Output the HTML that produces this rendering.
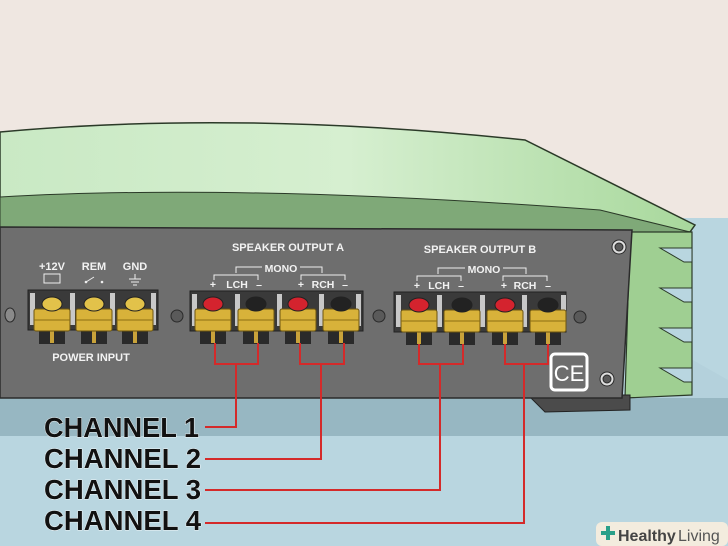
<!DOCTYPE html>
<html><head><meta charset="utf-8"><style>html,body{margin:0;padding:0;background:#efe7e1}svg{display:block}</style></head><body>
<svg width="728" height="546" viewBox="0 0 728 546" xmlns="http://www.w3.org/2000/svg" font-family="Liberation Sans, sans-serif">
<defs>
<linearGradient id="lid" x1="0" y1="0" x2="1" y2="0"><stop offset="0" stop-color="#c9e9c4"/><stop offset="0.5" stop-color="#d6efd0"/><stop offset="1" stop-color="#a8d89c"/></linearGradient>
<g id="term">
<rect x="-13" y="330" width="26" height="14" fill="#2a2a2a"/>
<rect x="-2" y="330" width="4" height="13" fill="#c9a33a"/>
<rect x="-18" y="309" width="36" height="22" rx="2" fill="#d8b23a" stroke="#6b5410" stroke-width="1"/>
<line x1="-18" y1="320" x2="18" y2="320" stroke="#8c6d12" stroke-width="1"/>
</g>
</defs>
<rect width="728" height="546" fill="#efe7e1"/>
<polygon points="560,218 728,218 728,546 0,546 0,400 560,400" fill="#b9d6e0"/>
<polygon points="640,330 728,380 728,546 600,546" fill="#b4d1dc"/>
<rect x="0" y="398" width="728" height="38" fill="#97b7c2"/>
<rect x="0" y="436" width="728" height="110" fill="#b9d6e0"/>
<path d="M0,132 Q240,110 525,140 L695,225 L690,232 L0,232 Z" fill="url(#lid)" stroke="#2b3a28" stroke-width="1.5"/>
<path d="M0,197 Q240,183 600,210 L690,232 L630,236 L0,230 Z" fill="#7fa978" stroke="#2b3a28" stroke-width="1"/>
<path d="M630,232 L692,232 L692,395 L625,398 Z" fill="#9fcf92" stroke="#2b3a28" stroke-width="1.2"/>
<g fill="#b9d6e0" stroke="#2b3a28" stroke-width="1">
<polygon points="692,248 660,248 684,262 692,262"/>
<polygon points="692,288 660,288 684,302 692,302"/>
<polygon points="692,328 660,328 684,342 692,342"/>
<polygon points="692,368 660,368 684,382 692,382"/>
</g>
<polygon points="528,395 630,395 630,410 545,412" fill="#4b4b4b" stroke="#222" stroke-width="1"/>
<polygon points="0,227 632,230 622,398 0,398" fill="#6e6e6e" stroke="#2b2b2b" stroke-width="1.5"/>
<g fill="#5a5a5a" stroke="#2a2a2a">
<circle cx="619" cy="247" r="7" fill="#ddd"/><circle cx="619" cy="247" r="4"/>
<circle cx="607" cy="379" r="7" fill="#ddd"/><circle cx="607" cy="379" r="4"/>
<circle cx="177" cy="316" r="6"/><circle cx="379" cy="316" r="6"/><circle cx="580" cy="317" r="6"/>
<ellipse cx="10" cy="315" rx="5" ry="7" fill="#8a8a8a"/>
</g>
<rect x="551" y="354" width="36" height="36" rx="4" fill="#6e6e6e" stroke="#fff" stroke-width="3"/>
<text x="569" y="381" font-size="22" fill="#fff" text-anchor="middle">CE</text>
<g fill="#f2f2f2" font-weight="bold" font-size="11" text-anchor="middle">
<text x="288" y="251">SPEAKER OUTPUT A</text>
<text x="480" y="253">SPEAKER OUTPUT B</text>
<text x="52" y="270">+12V</text><text x="94" y="270">REM</text><text x="135" y="270">GND</text>
<text x="91" y="361">POWER INPUT</text>
<g font-size="10.5">
<text x="281" y="272">MONO</text><text x="484" y="273">MONO</text>
<text x="237" y="288">LCH</text><text x="323" y="288">RCH</text>
<text x="439" y="289">LCH</text><text x="525" y="289">RCH</text>
<text x="213" y="288">+</text><text x="259" y="288">–</text><text x="301" y="288">+</text><text x="345" y="288">–</text>
<text x="417" y="289">+</text><text x="461" y="289">–</text><text x="504" y="289">+</text><text x="548" y="289">–</text>
</g>
</g>
<g fill="none" stroke="#eee" stroke-width="1">
<path d="M236,273 V267 H262 M300,267 H322 V273"/><path d="M214,280 V275 H258 V280 M301,280 V275 H345 V280"/>
<path d="M438,274 V268 H465 M503,268 H526 V274"/><path d="M417,281 V276 H461 V281 M503,281 V276 H547 V281"/>
<rect x="44" y="274" width="16" height="9"/>
<path d="M86,282 l8,-5 M135,274 v5 M129,279 h12 M131,282 h8 M133,285 h4"/>
</g>
<circle cx="86" cy="282" r="1.3" fill="#eee"/><circle cx="102" cy="282" r="1.3" fill="#eee"/>
<g fill="#3a3a3a" stroke="#222">
<rect x="28" y="290" width="130" height="40"/>
<rect x="190" y="291" width="173" height="40"/>
<rect x="394" y="292" width="172" height="40"/>
</g>
<g fill="#c8c8c8">
<rect x="30" y="293" width="5" height="32"/><rect x="70" y="293" width="5" height="32"/><rect x="110" y="293" width="5" height="32"/><rect x="151" y="293" width="5" height="32"/>
<rect x="192" y="294" width="5" height="32"/><rect x="235" y="294" width="5" height="32"/><rect x="277" y="294" width="5" height="32"/><rect x="319" y="294" width="5" height="32"/><rect x="356" y="294" width="5" height="32"/>
<rect x="396" y="295" width="5" height="32"/><rect x="437" y="295" width="5" height="32"/><rect x="480" y="295" width="5" height="32"/><rect x="522" y="295" width="5" height="32"/><rect x="561" y="295" width="5" height="32"/>
</g>
<use href="#term" x="52"/><use href="#term" x="94"/><use href="#term" x="135"/>
<use href="#term" x="213"/><use href="#term" x="256"/><use href="#term" x="298"/><use href="#term" x="341"/>
<g transform="translate(0,1)"><use href="#term" x="419"/><use href="#term" x="462"/><use href="#term" x="505"/><use href="#term" x="548"/></g>
<g stroke="#222">
<ellipse cx="52" cy="304" rx="10" ry="7" fill="#e2c24a"/><ellipse cx="94" cy="304" rx="10" ry="7" fill="#e2c24a"/><ellipse cx="135" cy="304" rx="10" ry="7" fill="#e2c24a"/>
<ellipse cx="213" cy="304" rx="10" ry="7" fill="#d4232e"/><ellipse cx="256" cy="304" rx="10" ry="7" fill="#222"/>
<ellipse cx="298" cy="304" rx="10" ry="7" fill="#d4232e"/><ellipse cx="341" cy="304" rx="10" ry="7" fill="#222"/>
<ellipse cx="419" cy="305" rx="10" ry="7" fill="#d4232e"/><ellipse cx="462" cy="305" rx="10" ry="7" fill="#222"/>
<ellipse cx="505" cy="305" rx="10" ry="7" fill="#d4232e"/><ellipse cx="548" cy="305" rx="10" ry="7" fill="#222"/>
</g>
<g fill="none" stroke="#d42a2a" stroke-width="2">
<path d="M215,343 V364 H258 V343 M236,364 V427 H205"/>
<path d="M300,343 V364 H344 V343 M321,364 V459 H205"/>
<path d="M419,344 V364 H463 V344 M440,364 V490 H205"/>
<path d="M505,344 V364 H548 V344 M524,364 V523 H205"/>
</g>
<g font-size="28" font-weight="bold" fill="#111" stroke="#fff" stroke-width="0.8" paint-order="stroke">
<text x="44" y="437" textLength="155" lengthAdjust="spacingAndGlyphs">CHANNEL 1</text>
<text x="44" y="468" textLength="157" lengthAdjust="spacingAndGlyphs">CHANNEL 2</text>
<text x="44" y="499" textLength="157" lengthAdjust="spacingAndGlyphs">CHANNEL 3</text>
<text x="44" y="530" textLength="157" lengthAdjust="spacingAndGlyphs">CHANNEL 4</text>
</g>
<rect x="596" y="522" width="132" height="24" rx="6" fill="#f3ecde"/>
<path d="M601,533 h14 M608,526 v14" stroke="#2aa08a" stroke-width="4"/>
<text x="618" y="541" font-size="16" fill="#444" font-weight="bold">Healthy</text>
<text x="678" y="541" font-size="16" fill="#555">Living</text>
</svg>
</body></html>
